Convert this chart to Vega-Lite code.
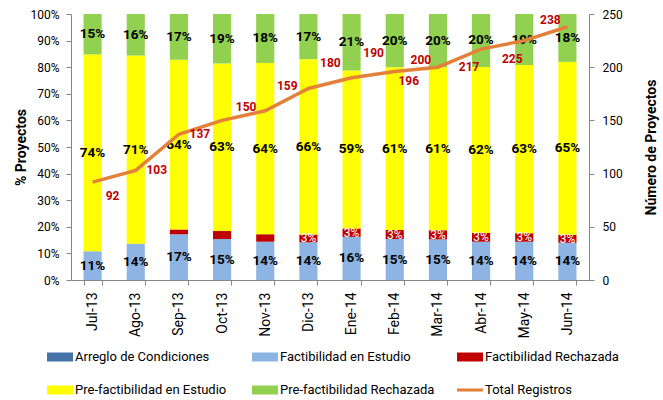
{
  "$schema": "https://vega.github.io/schema/vega-lite/v6.json",
  "width": 518,
  "height": 266,
  "autosize": {"type": "none"},
  "padding": {"left": 71, "top": 14, "right": 74, "bottom": 120},
  "background": "white",
  "config": {
    "font": "Roboto",
    "view": {"stroke": null},
    "axis": {"grid": false, "domainColor": "#868686", "tickColor": "#868686", "labelColor": "#000000", "titleColor": "#000000"},
    "axisLeft": {
      "tickSize": 5,
      "labelPadding": 7,
      "labelFontSize": 12,
      "titleFontSize": 14,
      "titleFontWeight": "bold",
      "titleX": -50,
      "titleY": 133,
      "titleBaseline": "middle"
    },
    "axisRight": {
      "tickSize": 5,
      "labelPadding": 8,
      "labelFontSize": 12,
      "titleFontSize": 14,
      "titleFontWeight": "bold",
      "titleAngle": -90,
      "titleX": 62,
      "titleY": 133,
      "titleBaseline": "middle"
    }
  },
  "datasets": {
    "bars": [
      {"mes": "Jul-13", "serie": "Arreglo de Condiciones", "pct": 0},
      {"mes": "Jul-13", "serie": "Factibilidad en Estudio", "pct": 10.8},
      {"mes": "Jul-13", "serie": "Factibilidad Rechazada", "pct": 0},
      {"mes": "Jul-13", "serie": "Pre-factibilidad en Estudio", "pct": 74.0},
      {"mes": "Jul-13", "serie": "Pre-factibilidad Rechazada", "pct": 15.2},
      {"mes": "Ago-13", "serie": "Arreglo de Condiciones", "pct": 0},
      {"mes": "Ago-13", "serie": "Factibilidad en Estudio", "pct": 13.6},
      {"mes": "Ago-13", "serie": "Factibilidad Rechazada", "pct": 0},
      {"mes": "Ago-13", "serie": "Pre-factibilidad en Estudio", "pct": 70.8},
      {"mes": "Ago-13", "serie": "Pre-factibilidad Rechazada", "pct": 15.6},
      {"mes": "Sep-13", "serie": "Arreglo de Condiciones", "pct": 0},
      {"mes": "Sep-13", "serie": "Factibilidad en Estudio", "pct": 17.2},
      {"mes": "Sep-13", "serie": "Factibilidad Rechazada", "pct": 1.8},
      {"mes": "Sep-13", "serie": "Pre-factibilidad en Estudio", "pct": 63.8},
      {"mes": "Sep-13", "serie": "Pre-factibilidad Rechazada", "pct": 17.2},
      {"mes": "Oct-13", "serie": "Arreglo de Condiciones", "pct": 0},
      {"mes": "Oct-13", "serie": "Factibilidad en Estudio", "pct": 15.4},
      {"mes": "Oct-13", "serie": "Factibilidad Rechazada", "pct": 3.0},
      {"mes": "Oct-13", "serie": "Pre-factibilidad en Estudio", "pct": 63.0},
      {"mes": "Oct-13", "serie": "Pre-factibilidad Rechazada", "pct": 18.6},
      {"mes": "Nov-13", "serie": "Arreglo de Condiciones", "pct": 0},
      {"mes": "Nov-13", "serie": "Factibilidad en Estudio", "pct": 14.4},
      {"mes": "Nov-13", "serie": "Factibilidad Rechazada", "pct": 2.8},
      {"mes": "Nov-13", "serie": "Pre-factibilidad en Estudio", "pct": 64.4},
      {"mes": "Nov-13", "serie": "Pre-factibilidad Rechazada", "pct": 18.4},
      {"mes": "Dic-13", "serie": "Arreglo de Condiciones", "pct": 0},
      {"mes": "Dic-13", "serie": "Factibilidad en Estudio", "pct": 14.2},
      {"mes": "Dic-13", "serie": "Factibilidad Rechazada", "pct": 2.9},
      {"mes": "Dic-13", "serie": "Pre-factibilidad en Estudio", "pct": 65.9},
      {"mes": "Dic-13", "serie": "Pre-factibilidad Rechazada", "pct": 17.0},
      {"mes": "Ene-14", "serie": "Arreglo de Condiciones", "pct": 0},
      {"mes": "Ene-14", "serie": "Factibilidad en Estudio", "pct": 16.2},
      {"mes": "Ene-14", "serie": "Factibilidad Rechazada", "pct": 3.2},
      {"mes": "Ene-14", "serie": "Pre-factibilidad en Estudio", "pct": 59.4},
      {"mes": "Ene-14", "serie": "Pre-factibilidad Rechazada", "pct": 21.2},
      {"mes": "Feb-14", "serie": "Arreglo de Condiciones", "pct": 0},
      {"mes": "Feb-14", "serie": "Factibilidad en Estudio", "pct": 15.4},
      {"mes": "Feb-14", "serie": "Factibilidad Rechazada", "pct": 3.4},
      {"mes": "Feb-14", "serie": "Pre-factibilidad en Estudio", "pct": 61.2},
      {"mes": "Feb-14", "serie": "Pre-factibilidad Rechazada", "pct": 20.0},
      {"mes": "Mar-14", "serie": "Arreglo de Condiciones", "pct": 0},
      {"mes": "Mar-14", "serie": "Factibilidad en Estudio", "pct": 15.3},
      {"mes": "Mar-14", "serie": "Factibilidad Rechazada", "pct": 3.4},
      {"mes": "Mar-14", "serie": "Pre-factibilidad en Estudio", "pct": 61.3},
      {"mes": "Mar-14", "serie": "Pre-factibilidad Rechazada", "pct": 20.0},
      {"mes": "Abr-14", "serie": "Arreglo de Condiciones", "pct": 0},
      {"mes": "Abr-14", "serie": "Factibilidad en Estudio", "pct": 14.4},
      {"mes": "Abr-14", "serie": "Factibilidad Rechazada", "pct": 3.3},
      {"mes": "Abr-14", "serie": "Pre-factibilidad en Estudio", "pct": 62.4},
      {"mes": "Abr-14", "serie": "Pre-factibilidad Rechazada", "pct": 19.9},
      {"mes": "May-14", "serie": "Arreglo de Condiciones", "pct": 0},
      {"mes": "May-14", "serie": "Factibilidad en Estudio", "pct": 14.4},
      {"mes": "May-14", "serie": "Factibilidad Rechazada", "pct": 3.2},
      {"mes": "May-14", "serie": "Pre-factibilidad en Estudio", "pct": 63.2},
      {"mes": "May-14", "serie": "Pre-factibilidad Rechazada", "pct": 19.2},
      {"mes": "Jun-14", "serie": "Arreglo de Condiciones", "pct": 0},
      {"mes": "Jun-14", "serie": "Factibilidad en Estudio", "pct": 14.0},
      {"mes": "Jun-14", "serie": "Factibilidad Rechazada", "pct": 3.0},
      {"mes": "Jun-14", "serie": "Pre-factibilidad en Estudio", "pct": 65.0},
      {"mes": "Jun-14", "serie": "Pre-factibilidad Rechazada", "pct": 18.0}
    ],
    "totals": [
      {"mes": "Jul-13", "total": 92},
      {"mes": "Ago-13", "total": 103},
      {"mes": "Sep-13", "total": 137},
      {"mes": "Oct-13", "total": 150},
      {"mes": "Nov-13", "total": 159},
      {"mes": "Dic-13", "total": 180},
      {"mes": "Ene-14", "total": 190},
      {"mes": "Feb-14", "total": 196},
      {"mes": "Mar-14", "total": 200},
      {"mes": "Abr-14", "total": 217},
      {"mes": "May-14", "total": 225},
      {"mes": "Jun-14", "total": 238}
    ]
  },
  "encoding": {
    "x": {
      "field": "mes",
      "type": "nominal",
      "sort": ["Jul-13", "Ago-13", "Sep-13", "Oct-13", "Nov-13", "Dic-13", "Ene-14", "Feb-14", "Mar-14", "Abr-14", "May-14", "Jun-14"],
      "scale": {"paddingInner": 0.58, "paddingOuter": 0.29},
      "axis": {"title": null, "labelAngle": -90, "tickBand": "extent", "tickSize": 5, "labelPadding": 7, "labelFontSize": 14, "labelColor": "#000000"}
    }
  },
  "layer": [
    {
      "data": {"name": "bars"},
      "transform": [
        {"calculate": "indexof(['Arreglo de Condiciones','Factibilidad en Estudio','Factibilidad Rechazada','Pre-factibilidad en Estudio','Pre-factibilidad Rechazada'], datum.serie)", "as": "k"},
        {"stack": "pct", "groupby": ["mes"], "sort": [{"field": "k", "order": "ascending"}], "as": ["p0", "p1"]},
        {"calculate": "(datum.p0 + datum.p1) / 2", "as": "pm"},
        {"calculate": "round(datum.pct) + '%'", "as": "lbl"}
      ],
      "layer": [
        {
          "mark": {"type": "bar"},
          "encoding": {
            "y": {
              "field": "p0",
              "type": "quantitative",
              "title": "% Proyectos",
              "scale": {"domain": [0, 100], "nice": false},
              "axis": {"orient": "left", "title": "% Proyectos", "values": [0, 10, 20, 30, 40, 50, 60, 70, 80, 90, 100], "labelExpr": "datum.value + '%'"}
            },
            "y2": {"field": "p1"},
            "color": {
              "field": "serie",
              "type": "nominal",
              "scale": {
                "domain": ["Arreglo de Condiciones", "Factibilidad en Estudio", "Factibilidad Rechazada", "Pre-factibilidad en Estudio", "Pre-factibilidad Rechazada", "Total Registros"],
                "range": ["#4572A7", "#8DB4E2", "#C00000", "#FFFF00", "#92D050", "#E3813B"]
              },
              "legend": {
                "title": null,
                "orient": "none",
                "legendX": -20,
                "legendY": 334,
                "direction": "horizontal",
                "columns": 3,
                "gridAlign": "all",
                "columnPadding": 22,
                "rowPadding": 17,
                "symbolSize": 324,
                "symbolStrokeWidth": 0,
                "labelFontSize": 13,
                "labelColor": "#000000",
                "labelOffset": 6,
                "labelLimit": 300,
                "padding": 0,
                "encode": {
                  "symbols": {
                    "update": {
                      "shape": {"signal": "datum.value === 'Total Registros' ? 'M-1.444,-0.17H1.444V0.17H-1.444Z' : 'M-1.444,-0.5H1.444V0.5H-1.444Z'"},
                      "opacity": {"value": 1}
                    }
                  }
                }
              }
            }
          }
        },
        {
          "transform": [{"filter": "datum.serie != 'Factibilidad Rechazada' && datum.serie != 'Arreglo de Condiciones'"}],
          "mark": {"type": "text", "fontWeight": "bold", "fontSize": 13.5, "color": "#000000", "baseline": "middle"},
          "encoding": {
            "y": {"field": "pm", "type": "quantitative", "title": "% Proyectos", "axis": {"orient": "left", "title": "% Proyectos", "values": [0, 10, 20, 30, 40, 50, 60, 70, 80, 90, 100], "labelExpr": "datum.value + '%'"}},
            "text": {"field": "lbl"}
          }
        },
        {
          "transform": [{"filter": "datum.serie == 'Factibilidad Rechazada' && indexof(['Dic-13','Ene-14','Feb-14','Mar-14','Abr-14','May-14','Jun-14'], datum.mes) >= 0"}],
          "mark": {"type": "text", "fontSize": 12, "color": "#FFFFFF", "baseline": "middle"},
          "encoding": {
            "y": {"field": "pm", "type": "quantitative", "title": "% Proyectos", "axis": {"orient": "left", "title": "% Proyectos", "values": [0, 10, 20, 30, 40, 50, 60, 70, 80, 90, 100], "labelExpr": "datum.value + '%'"}},
            "text": {"field": "lbl"}
          }
        }
      ]
    },
    {
      "data": {"name": "totals"},
      "encoding": {
        "y": {
          "field": "total",
          "type": "quantitative",
          "title": "Número de Proyectos",
          "scale": {"domain": [0, 250], "nice": false},
          "axis": {"orient": "right", "title": "Número de Proyectos", "values": [0, 50, 100, 150, 200, 250]}
        },
        "text": {"field": "total"}
      },
      "layer": [
        {
          "mark": {"type": "line", "color": "#E3813B", "strokeWidth": 3.5}
        },
        {
          "transform": [{"filter": "datum.mes == 'Jul-13'"}],
          "mark": {"type": "text", "fontWeight": "bold", "fontSize": 12, "color": "#C00000", "dx": 20, "dy": 14}
        },
        {
          "transform": [{"filter": "datum.mes == 'Feb-14'"}],
          "mark": {"type": "text", "fontWeight": "bold", "fontSize": 12, "color": "#C00000", "dx": 14, "dy": 10}
        },
        {
          "transform": [{"filter": "datum.mes == 'Ago-13' || datum.mes == 'Sep-13'"}],
          "mark": {"type": "text", "fontWeight": "bold", "fontSize": 12, "color": "#C00000", "dx": 21, "dy": 0}
        },
        {
          "transform": [{"filter": "datum.mes == 'Oct-13'"}],
          "mark": {"type": "text", "fontWeight": "bold", "fontSize": 12, "color": "#C00000", "dx": 24, "dy": -13}
        },
        {
          "transform": [{"filter": "datum.mes == 'Nov-13' || datum.mes == 'Dic-13' || datum.mes == 'Ene-14'"}],
          "mark": {"type": "text", "fontWeight": "bold", "fontSize": 12, "color": "#C00000", "dx": 22, "dy": -25}
        },
        {
          "transform": [{"filter": "datum.mes == 'Mar-14' || datum.mes == 'Jun-14'"}],
          "mark": {"type": "text", "fontWeight": "bold", "fontSize": 12, "color": "#C00000", "dx": -17, "dy": -7}
        },
        {
          "transform": [{"filter": "datum.mes == 'Abr-14' || datum.mes == 'May-14'"}],
          "mark": {"type": "text", "fontWeight": "bold", "fontSize": 12, "color": "#C00000", "dx": -12, "dy": 18}
        }
      ]
    }
  ],
  "resolve": {"scale": {"y": "independent"}}
}
